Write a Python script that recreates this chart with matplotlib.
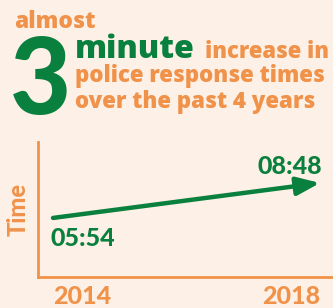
import matplotlib
matplotlib.use("Agg")
from matplotlib import pyplot as plt

# data
years = [2014, 2018]
times = [5.9, 8.8]          # minutes (05:54 and 08:48)
time_labels = ["05:54", "08:48"]

bg = "#fdf0e6"
orange = "#f0924a"
green = "#0a803f"
plt.rcParams["font.family"] = ["Lato", "DejaVu Sans"]
words = ["Open Sans", "DejaVu Sans"]

fig = plt.figure(figsize=(3.33, 3.08), dpi=100, facecolor=bg)

# headline
fig.text(14/333, 1 - 28/308, "almost", color=orange, fontsize=16.4, fontweight="heavy", family=words)
fig.text(10/333, 1 - 114/308, "3", color=green, fontsize=76, fontweight="black")
fig.text(75/333, 1 - 58/308, "minute", color=green, fontsize=23, fontweight="heavy", family=words)
fig.text(205/333, 1 - 58/308, "increase in", color=orange, fontsize=15.8, fontweight="heavy", family=words)
fig.text(75/333, 1 - 82/308, "police response times", color=orange, fontsize=16, fontweight="heavy", family=words)
fig.text(75/333, 1 - 108/308, "over the past 4 years", color=orange, fontsize=16, fontweight="heavy", family=words)

ax = fig.add_axes([38/333, 31/308, 295/333, 135/308])
ax.set_facecolor(bg)
ax.set_xlim(2013.775, 2018.195)
ax.set_ylim(1.0, 12.2)
for s in ["top", "right"]:
    ax.spines[s].set_visible(False)
for s in ["left", "bottom"]:
    ax.spines[s].set_color(orange)
    ax.spines[s].set_linewidth(2)

ax.annotate("", xy=(years[1], times[1]), xytext=(years[0], times[0]),
            arrowprops=dict(arrowstyle="-|>,head_length=1.4,head_width=0.55",
                            color=green, lw=3.2, shrinkA=0, shrinkB=0))
ax.text(years[0] - 0.04, times[0] - 0.75, time_labels[0], color=green, fontsize=18,
        fontweight="black", ha="left", va="top")
ax.text(years[1] + 0.03, times[1] + 0.45, time_labels[1], color=green, fontsize=18,
        fontweight="black", ha="right", va="bottom")

ax.set_xticks(years)
ax.set_xticklabels([str(y) for y in years], color=orange, fontsize=18, fontweight="black")
ax.get_xticklabels()[0].set_ha("left")
ax.get_xticklabels()[1].set_ha("right")
ax.tick_params(axis="x", length=0, pad=6)
ax.set_yticks([])
ax.set_ylabel("Time", color=orange, fontsize=17, fontweight="black", labelpad=6)

fig.savefig("out.png", dpi=100, facecolor=bg)
